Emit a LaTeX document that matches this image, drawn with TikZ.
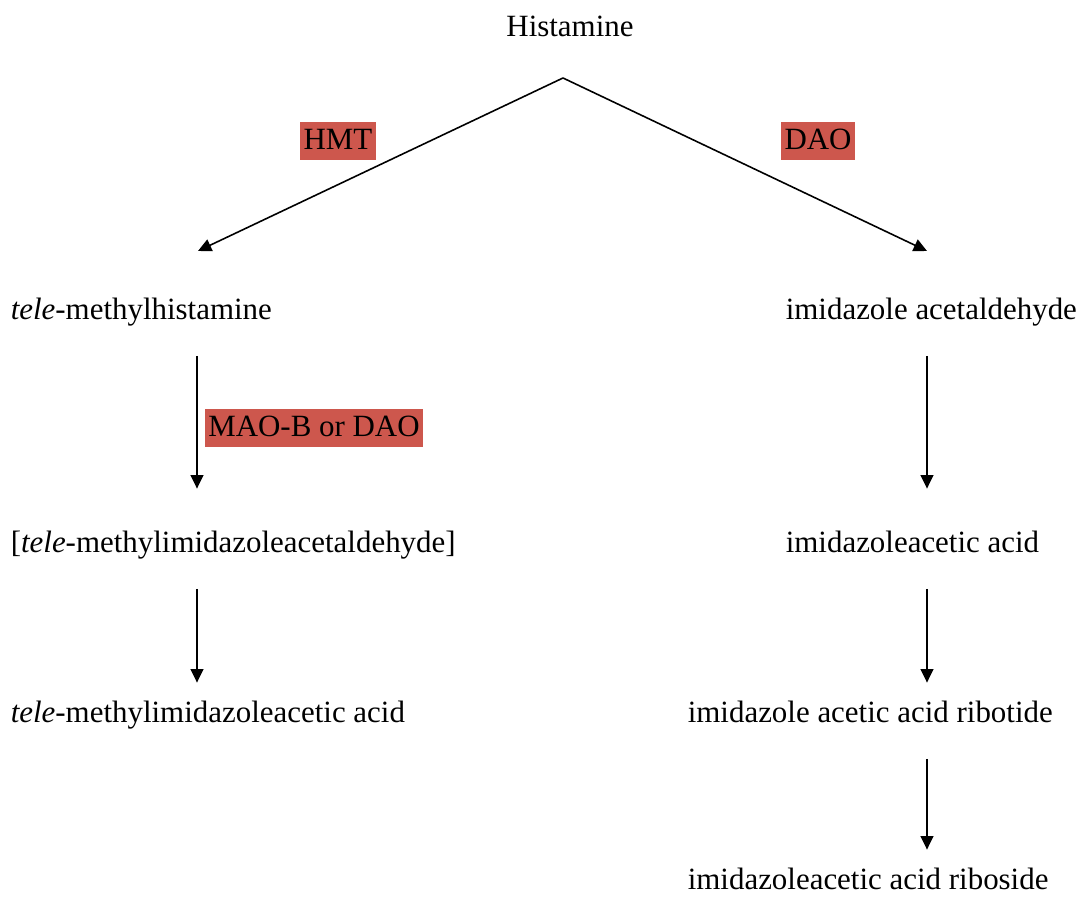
\documentclass[tikz,border=0pt]{standalone}
\usepackage{fontspec}
\setmainfont{Liberation Serif}
\usepackage{xcolor}
\usepackage{tikz}
\usetikzlibrary{positioning, arrows.meta}

\definecolor{enzred}{RGB}{205,87,77}

\begin{document}
\begin{tikzpicture}[
  >={Triangle[length=3.8pt,width=3.6pt]}, % small filled arrow heads
  line width=0.45pt,
  every node/.style={font=\fontsize{8.8}{10.5}\selectfont},
  compound/.style={inner sep=0pt, text height=7pt, text depth=2pt, anchor=base west}, % metabolite names
  enzyme/.style={fill=enzred, inner xsep=1pt, inner ysep=0.6pt, text height=7.2pt, text depth=2.6pt}, % highlighted enzymes
  reaction/.style={->, shorten <=0.28cm, shorten >=0.15cm}, % vertical steps
]
    \useasboundingbox (0,0) rectangle (10.79,-8.99);

    % top
    \node[compound, anchor=base] (hist) at (5.70,-0.37) {Histamine};
    \coordinate (fork) at (5.63,-0.78);

    % left branch
    \node[compound] (tmh) at (0.10,-3.20) {\textit{tele}-methylhistamine};
    \node[compound] (tmald) at (0.10,-5.53) {[\textit{tele}-methylimidazoleacetaldehyde]};
    \node[compound] (tmaa) at (0.10,-7.23) {\textit{tele}-methylimidazoleacetic acid};
    \coordinate (lcol) at (1.97,0);
    \coordinate (lend) at (1.98,-2.51);

    % right branch
    \node[compound] (iald) at (7.85,-3.20) {imidazole acetaldehyde};
    \node[compound] (iaa) at (7.85,-5.53) {imidazoleacetic acid};
    \node[compound] (iaarp) at (6.87,-7.23) {imidazole acetic acid ribotide};
    \node[compound] (iaar) at (6.87,-8.90) {imidazoleacetic acid riboside};
    \coordinate (rcol) at (9.27,0);
    \coordinate (rend) at (9.27,-2.51);

    % enzymes
    \node[enzyme] (hmt) at (3.38,-1.41) {HMT};
    \node[enzyme] (dao) at (8.18,-1.41) {DAO};
    \node[enzyme] (mao) at (3.14,-4.28) {MAO-B or DAO};

    \draw[->] (fork) -- (lend);
    \draw[->] (fork) -- (rend);

    \draw[reaction, shorten >=0.39cm] (tmh.south -| lcol) -- (tmald.north -| lcol);
    \draw[reaction] (tmald.south -| lcol) -- (tmaa.north -| lcol);

    \draw[reaction, shorten >=0.39cm] (iald.south -| rcol) -- (iaa.north -| rcol);
    \draw[reaction] (iaa.south -| rcol) -- (iaarp.north -| rcol);
    \draw[reaction] (iaarp.south -| rcol) -- (iaar.north -| rcol);
\end{tikzpicture}
\end{document}
